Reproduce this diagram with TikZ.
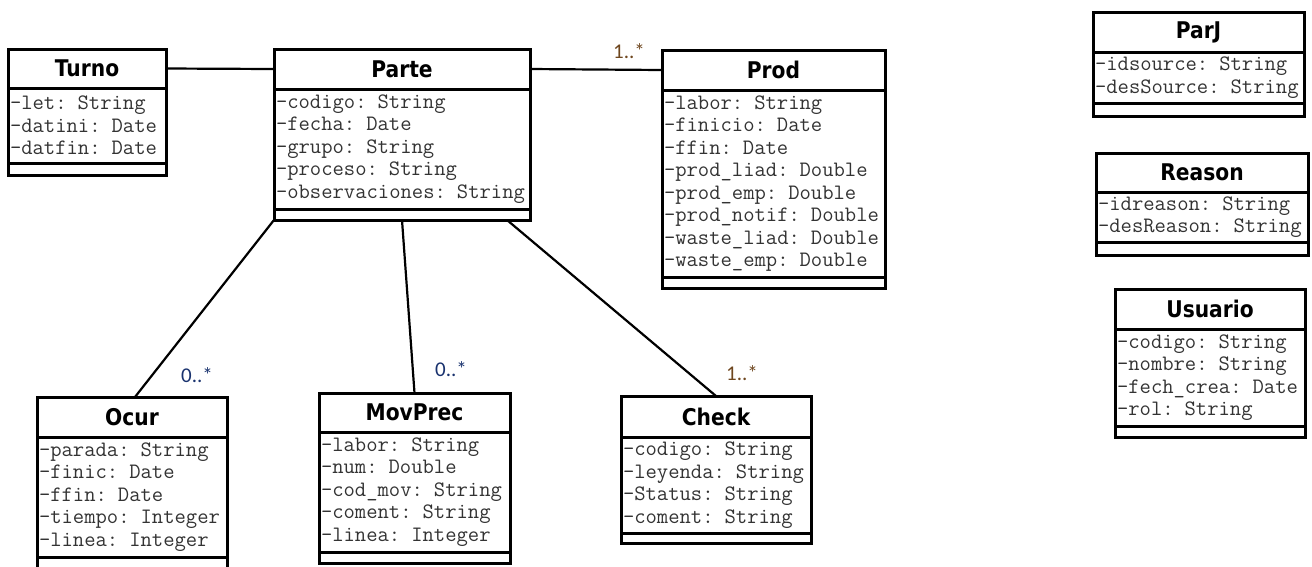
\documentclass[tikz,border=0pt]{standalone}
\usepackage{fontspec}
\newfontfamily\titlefont[FakeStretch=0.88]{DejaVu Sans}
\newfontfamily\multfont{Carlito}
\definecolor{multblue}{RGB}{25,50,110}
\definecolor{multbrown}{RGB}{110,70,30}
\tikzset{
  umltitle/.style={draw, line width=3pt, anchor=north west, outer sep=0pt, inner sep=0pt,
    font=\titlefont\bfseries\fontsize{23}{26}\selectfont},
  umlattr/.style={draw, line width=3pt, anchor=north west, outer sep=0pt, inner xsep=2pt, inner ysep=0pt,
    align=left, font=\ttfamily\fontsize{22}{22.5}\selectfont, text=black!80},
  umlempty/.style={draw, line width=3pt, anchor=north west, outer sep=0pt, inner sep=0pt},
  assoc/.style={line width=2.2pt},
  multlabel/.style={font=\multfont\fontsize{21}{22}\selectfont, inner sep=0pt},
}
\newcommand{\umlclass}[9]{%
  \pgfmathsetmacro\umltw{#4-4}%
  \node[umltitle, minimum width=#4, minimum height=#5] (#1) at (#2,#3) {#8};
  \node[umlattr, minimum width=#4, minimum height=#6, text width=\umltw pt] (#1-a) at (#1.south west) {#9};
  \node[umlempty, minimum width=#4, minimum height=#7] (#1-e) at (#1-a.south west) {};
}
\begin{document}
\begin{tikzpicture}[x=1pt, y=-1pt]
\useasboundingbox (0,0) rectangle (1312,566);
\umlclass{turno}{8}{49}{158}{39}{75}{12}{Turno}{-let: String\\-datini: Date\\-datfin: Date}
\umlclass{parte}{274}{49}{256}{40}{120}{11}{Parte}{-codigo: String\\-fecha: Date\\-grupo: String\\-proceso: String\\-observaciones: String}
\umlclass{prod}{662}{50}{223}{40}{187}{11}{Prod}{-labor: String\\-finicio: Date\\-ffin: Date\\-prod\_liad: Double\\-prod\_emp: Double\\-prod\_notif: Double\\-waste\_liad: Double\\-waste\_emp: Double}
\umlclass{parj}{1093}{12}{211}{40}{51}{13}{ParJ}{-idsource: String\\-desSource: String}
\umlclass{reason}{1096}{153}{212}{39}{50}{13}{Reason}{-idreason: String\\-desReason: String}
\umlclass{usuario}{1115}{289}{190}{40}{97}{11}{Usuario}{-codigo: String\\-nombre: String\\-fech\_crea: Date\\-rol: String}
\umlclass{ocur}{37}{397}{190}{40}{120}{12}{Ocur}{-parada: String\\-finic: Date\\-ffin: Date\\-tiempo: Integer\\-linea: Integer}
\umlclass{movprec}{319}{393}{191}{39}{120}{11}{MovPrec}{-labor: String\\-num: Double\\-cod\_mov: String\\-coment: String\\-linea: Integer}
\umlclass{check}{621}{396}{190}{41}{96}{10}{Check}{-codigo: String\\-leyenda: String\\-Status: String\\-coment: String}

\draw[assoc] (turno.east) -- (parte.west);
\draw[assoc] (parte.east) -- (prod.west);
\draw[assoc] (parte-e.south west) -- ([xshift=3pt]ocur.north);
\draw[assoc] (parte-e.south) -- (movprec.north);
\draw[assoc] ([xshift=-23pt]parte-e.south east) -- (check.north);

\node[multlabel, text=multbrown] (m-prod) at (629,51) {1..*};
\node[multlabel, text=multblue] (m-ocur) at (197,375) {0..*};
\node[multlabel, text=multblue] (m-movprec) at (451,369) {0..*};
\node[multlabel, text=multbrown] (m-check) at (742,373) {1..*};
\end{tikzpicture}
\end{document}
